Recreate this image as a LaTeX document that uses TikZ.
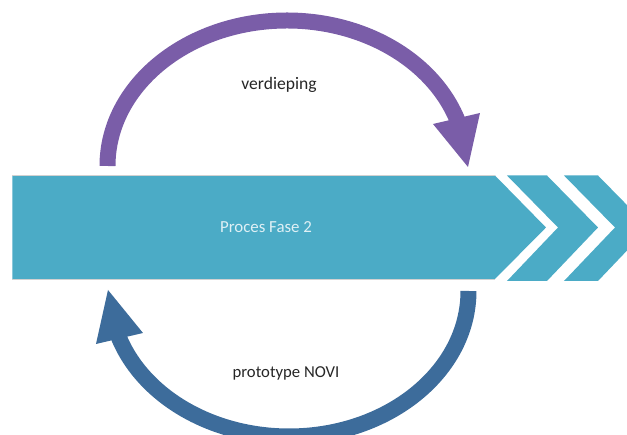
\documentclass[tikz,border=0pt]{standalone}
\usepackage{fontspec}
\setmainfont{Carlito}
\usetikzlibrary{positioning}
\definecolor{barblue}{HTML}{4BABC6}
\definecolor{loopviolet}{HTML}{7A5DA8}
\definecolor{loopblue}{HTML}{3D6C9B}

\begin{document}
\begin{tikzpicture}[x=0.02cm,y=0.02cm,font=\fontsize{10}{12}\selectfont]
        \tikzstyle{fase}=[fill=barblue]
        \tikzstyle{loop arc}=[line width=0.32cm]
        \tikzstyle{loop text}=[text=black!85]

        \clip (0,0) rectangle (627,435);

        % bar with two chevrons
        \fill[fase] (12.5,156) -- (495,156) -- (546,207.5) -- (495,259.5) -- (12.5,259.5) -- cycle;
        \draw[black!18, line width=0.3pt] (12.5,260) -- (495.5,260) (12.5,155.5) -- (495.5,155.5);
        \foreach \a/\b in {507/547, 564/598}
            \fill[fase] (\a,154) -- (\b,154) -- (\b+51,207.5) -- (\b,259.5) -- (\a,259.5) -- (\a+51,207.5) -- cycle;
        \node[text=white!82!barblue, font=\fontsize{9.6}{11}\selectfont] (fase) at (266,207.5) {Proces Fase 2};

        % upper loop
        \coordinate (vstart) at (107.5,269);
        \draw[loop arc, loopviolet] (vstart) arc[start angle=180, end angle=17, x radius=179.5, y radius=145.5];
        \fill[loopviolet] (433,311) -- (480,322) -- (468,268) -- cycle;
        \node[loop text] (verdieping) at (279,350) {verdieping};

        % lower loop
        \begin{scope}[rotate around={180:(288,206.5)}]
            \coordinate (pstart) at (107.5,269);
            \draw[loop arc, loopblue] (pstart) arc[start angle=180, end angle=17, x radius=179.5, y radius=145.5];
            \fill[loopblue] (433,311) -- (480,322) -- (468,268) -- cycle;
        \end{scope}
        \node[loop text, font=\fontsize{9.5}{11}\selectfont] (novi) at (286,62) {prototype NOVI};

\end{tikzpicture}
\end{document}
